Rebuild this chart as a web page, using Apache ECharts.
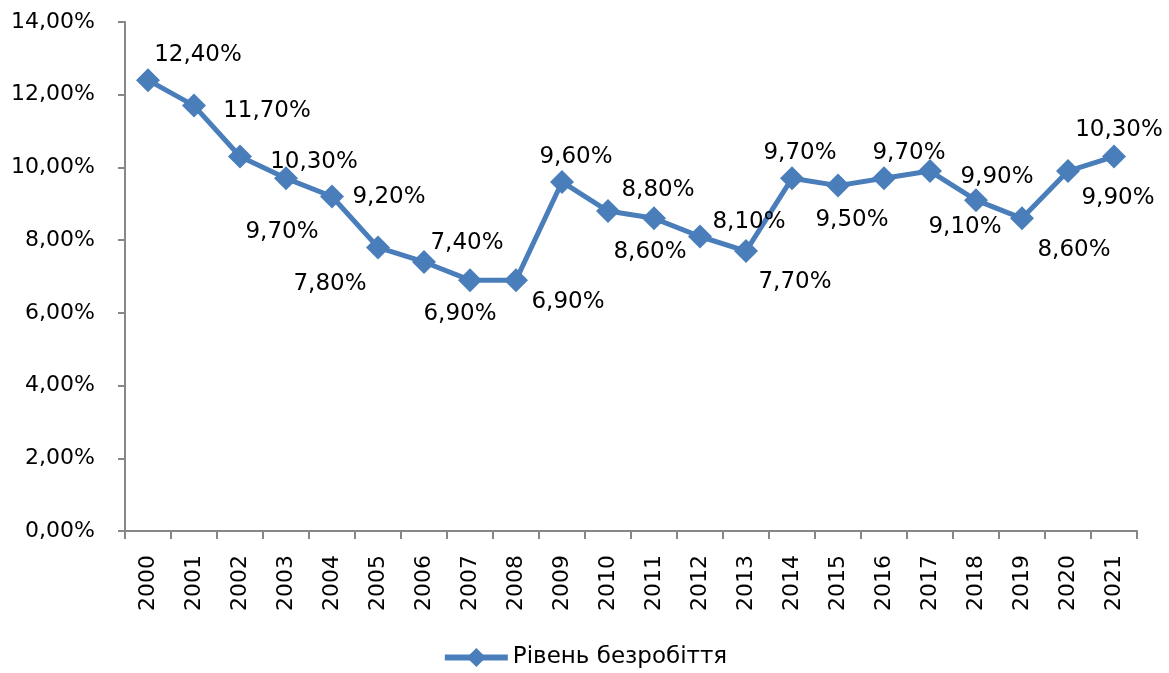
<!DOCTYPE html>
<html>
<head>
<meta charset="utf-8">
<script src="https://cdn.jsdelivr.net/npm/echarts@6/dist/echarts.min.js"></script>
<style>
  html, body { margin: 0; padding: 0; background: #fff; }
  #chart { width: 1169px; height: 673px; }
</style>
</head>
<body>
<div id="chart"></div>
<script>
// Unemployment rate by year, %
const years = ['2000','2001','2002','2003','2004','2005','2006','2007','2008','2009','2010',
               '2011','2012','2013','2014','2015','2016','2017','2018','2019','2020','2021'];
const unemployment = [12.4, 11.7, 10.3, 9.7, 9.2, 7.8, 7.4, 6.9, 6.9, 9.6, 8.8,
                      8.6, 8.1, 7.7, 9.7, 9.5, 9.7, 9.9, 9.1, 8.6, 9.9, 10.3];
const seriesName = 'Рівень безробіття';
const yTicks = { min: 0, max: 14, step: 2 };

// Where each value label sits relative to its marker (px)
const labelOffsets = [
  [50, -25], [73, 5], [74, 6], [-4, 54], [57, 1], [-48, 37], [43, -19], [-10, 34],
  [52, 22], [14, -25], [50, -21], [-4, 34], [49, -14], [49, 31], [8, -25], [14, 34],
  [25, -25], [67, 6], [-11, 27], [52, 32], [50, 27], [5, -26]
];

const fmt = v => v.toFixed(2).replace('.', ',') + '%';
const FONT = 'DejaVu Sans';
const BLUE = '#4a7ebb';
const AXIS = '#878787';

const chart = echarts.init(document.getElementById('chart'), null, { renderer: 'canvas' });

chart.setOption({
  animation: false,
  backgroundColor: '#ffffff',
  textStyle: { fontFamily: FONT },
  grid: { left: 125, right: 32, top: 22, bottom: 142, containLabel: false, outerBoundsMode: 'none' },
  legend: {
    top: 641,
    left: 'center',
    itemWidth: 63,
    itemHeight: 24,
    itemGap: 10,
    lineStyle: { width: 6, color: BLUE },
    itemStyle: { color: BLUE },
    textStyle: { fontFamily: FONT, fontSize: 23, color: '#000' },
    data: [seriesName]
  },
  xAxis: {
    type: 'category',
    data: years,
    boundaryGap: true,
    axisLine: { lineStyle: { color: AXIS, width: 2 } },
    axisTick: { show: true, alignWithLabel: false, length: 8, lineStyle: { color: AXIS, width: 2 } },
    axisLabel: { rotate: 90, margin: 24, fontFamily: FONT, fontSize: 22, color: '#000', interval: 0 },
    splitLine: { show: false }
  },
  yAxis: {
    type: 'value',
    min: yTicks.min,
    max: yTicks.max,
    interval: yTicks.step,
    axisLine: { show: true, lineStyle: { color: AXIS, width: 2 } },
    axisTick: { show: true, length: 7, lineStyle: { color: AXIS, width: 2 } },
    axisLabel: { margin: 30, fontFamily: FONT, fontSize: 22, color: '#000', formatter: v => fmt(v) },
    splitLine: { show: false }
  },
  series: [{
    name: seriesName,
    type: 'line',
    data: unemployment,
    symbol: 'diamond',
    symbolSize: 24,
    lineStyle: { color: BLUE, width: 5 },
    itemStyle: { color: BLUE },
    label: {
      show: true,
      position: 'inside',
      fontFamily: FONT,
      fontSize: 23,
      color: '#000',
      formatter: p => fmt(p.value)
    },
    labelLayout: p => ({
      dx: labelOffsets[p.dataIndex][0],
      dy: labelOffsets[p.dataIndex][1],
      hideOverlap: false
    }),
    z: 3
  }]
});
</script>
</body>
</html>
